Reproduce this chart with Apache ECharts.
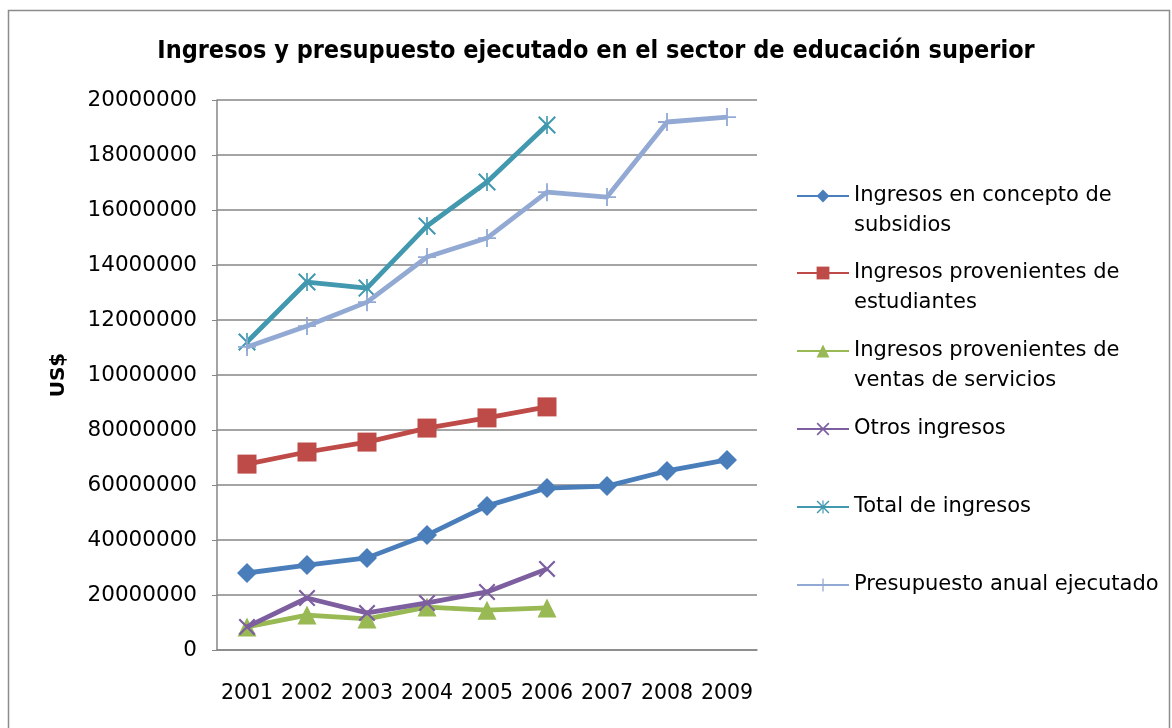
<!DOCTYPE html>
<html>
<head>
<meta charset="utf-8">
<script src="https://cdn.jsdelivr.net/npm/echarts@6/dist/echarts.min.js"></script>
<style>
  html, body { margin: 0; padding: 0; background: #fff; }
  #chart { width: 1172px; height: 728px; }
</style>
</head>
<body>
<div id="chart"></div>
<script>
// datos
var years = ['2001', '2002', '2003', '2004', '2005', '2006', '2007', '2008', '2009'];
var subsidios = [28000000, 30900000, 33500000, 41800000, 52400000, 58900000, 59600000, 65100000, 69100000];
var estudiantes = [67600000, 72000000, 75600000, 80700000, 84400000, 88400000];
var ventasServicios = [8400000, 12700000, 11300000, 15600000, 14500000, 15300000];
var otrosIngresos = [8400000, 18900000, 13500000, 17100000, 21100000, 29500000];
var totalIngresos = [112000000, 133800000, 131600000, 154200000, 170200000, 190900000];
var presupuesto = [110200000, 117800000, 126500000, 142900000, 149800000, 166500000, 164700000, 192000000, 193800000];
// etiquetas tal como aparecen (truncadas) en el eje
var yTickLabels = ['0', '20000000', '40000000', '60000000', '80000000', '10000000',
                   '12000000', '14000000', '16000000', '18000000', '20000000'];

var names = [
    'Ingresos en concepto de subsidios',
    'Ingresos provenientes de estudiantes',
    'Ingresos provenientes de ventas de servicios',
    'Otros ingresos',
    'Total de ingresos',
    'Presupuesto anual ejecutado'
];
var legendText = [
    'Ingresos en concepto de\nsubsidios',
    'Ingresos provenientes de\nestudiantes',
    'Ingresos provenientes de\nventas de servicios',
    'Otros ingresos',
    'Total de ingresos',
    'Presupuesto anual ejecutado'
];
var colors = ['#4a7ebb', '#be4b48', '#98b954', '#7d5fa0', '#4198af', '#92a9d3'];

var xPath = 'path://M0,0.9L0.9,0L10,9.1L9.1,10Z M0.9,10L0,9.1L9.1,0L10,0.9Z';
var starPath = 'path://M0,0.8L0.8,0L10,9.2L9.2,10Z M0.8,10L0,9.2L9.2,0L10,0.8Z M4.55,0L5.45,0L5.45,10L4.55,10Z';
var plusPath = 'path://M4.5,0L5.5,0L5.5,4.5L10,4.5L10,5.5L5.5,5.5L5.5,10L4.5,10L4.5,5.5L0,5.5L0,4.5L4.5,4.5Z';

var font = '"DejaVu Sans", sans-serif';

function mkSeries(i, data, symbol, size) {
    return {
        name: names[i],
        type: 'line',
        data: data,
        symbol: symbol,
        symbolSize: size,
        showAllSymbol: true,
        color: colors[i],
        lineStyle: { width: 4.8, color: colors[i] },
        itemStyle: { color: colors[i] },
        z: 2 + i
    };
}

// posicion vertical del icono de cada entrada de la leyenda
var legendTops = [181, 258, 336, 414, 492, 570];
var legends = [];
for (var i = 0; i < names.length; i++) {
    var txt = legendText[i];
    // linea vacia delante para que el icono quede en la primera linea
    if (txt.indexOf('\n') >= 0) txt = ' \n' + txt;
    legends.push({
        left: 796,
        top: legendTops[i] - (txt.indexOf('\n') >= 0 ? 30 : 0),
        orient: 'vertical',
        itemWidth: 52,
        itemHeight: 16,
        itemGap: 0,
        padding: 0,
        data: [names[i]],
        formatter: (function (t) { return function () { return t; }; })(txt),
        textStyle: {
            fontFamily: font,
            fontSize: 21,
            color: '#000',
            lineHeight: 30
        }
    });
}

var chart = echarts.init(document.getElementById('chart'));
chart.setOption({
    animation: false,
    backgroundColor: '#fff',
    title: {
        text: 'Ingresos y presupuesto ejecutado en el sector de educación superior',
        left: 591,
        textAlign: 'center',
        top: 34,
        textStyle: {
            fontFamily: '"Liberation Sans Narrow", "DejaVu Sans Condensed", sans-serif',
            fontWeight: 'bold',
            fontSize: 25,
            color: '#000'
        }
    },
    graphic: [{
        type: 'rect',
        shape: { x: 8.5, y: 10.5, width: 1161, height: 740 },
        style: { fill: 'none', stroke: '#8c8c8c', lineWidth: 1.5 },
        silent: true
    }],
    legend: legends,
    grid: { left: 217, right: 415, top: 100, bottom: 78 },
    xAxis: {
        type: 'category',
        data: years,
        boundaryGap: true,
        axisLine: { lineStyle: { color: '#868686', width: 1.5 } },
        axisTick: { show: false },
        axisLabel: { fontFamily: font, fontSize: 20.5, color: '#000', margin: 33, interval: 0 }
    },
    yAxis: {
        type: 'value',
        name: 'US$',
        nameLocation: 'middle',
        nameGap: 148,
        nameRotate: 90,
        nameTextStyle: { fontFamily: font, fontSize: 20, fontWeight: 'bold', color: '#000' },
        min: 0,
        max: 200000000,
        interval: 20000000,
        axisLine: { show: true, lineStyle: { color: '#868686', width: 1.5 } },
        axisTick: { show: true, length: 5, lineStyle: { color: '#868686' } },
        splitLine: { lineStyle: { color: '#868686', width: 1.5 } },
        axisLabel: {
            fontFamily: font, fontSize: 21.5, color: '#000', margin: 20,
            formatter: function (v, idx) { return yTickLabels[idx]; }
        }
    },
    series: [
        mkSeries(0, subsidios, 'diamond', 20),
        mkSeries(1, estudiantes, 'rect', 19),
        mkSeries(2, ventasServicios, 'triangle', 19),
        mkSeries(3, otrosIngresos, xPath, 17),
        mkSeries(4, totalIngresos, starPath, 18),
        mkSeries(5, presupuesto, plusPath, 18)
    ]
});
</script>
</body>
</html>
